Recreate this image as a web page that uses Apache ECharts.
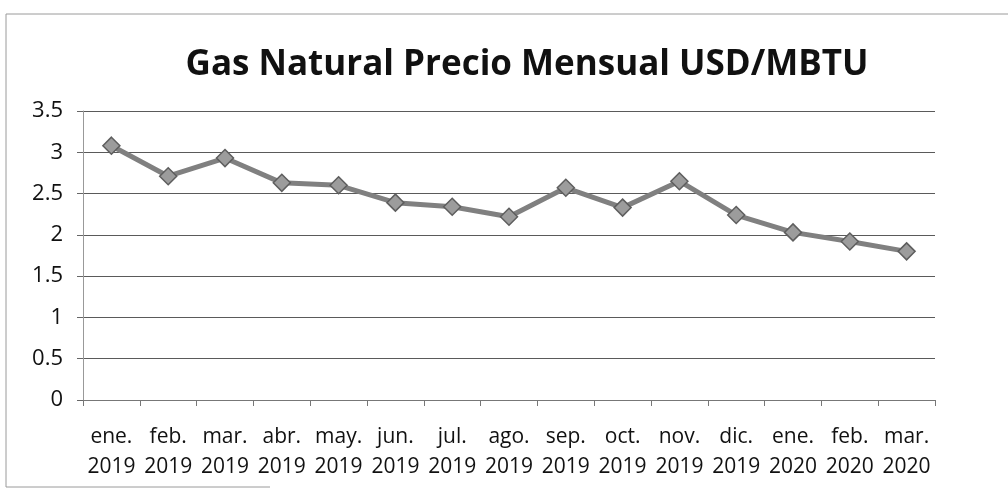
<!DOCTYPE html>
<html>
<head>
<meta charset="utf-8">
<script src="https://cdn.jsdelivr.net/npm/echarts@6/dist/echarts.min.js"></script>
<style>
html,body{margin:0;padding:0;background:#fff;}
#chart{width:1008px;height:495px;}
</style>
</head>
<body>
<div id="chart"></div>
<script>
const titleText = 'Gas Natural Precio Mensual USD/MBTU';
const months = ['ene.', 'feb.', 'mar.', 'abr.', 'may.', 'jun.', 'jul.', 'ago.', 'sep.', 'oct.', 'nov.', 'dic.', 'ene.', 'feb.', 'mar.'];
const years = ['2019', '2019', '2019', '2019', '2019', '2019', '2019', '2019', '2019', '2019', '2019', '2019', '2020', '2020', '2020'];
const prices = [3.08, 2.71, 2.93, 2.63, 2.60, 2.39, 2.34, 2.22, 2.57, 2.33, 2.65, 2.24, 2.03, 1.92, 1.80];
const yTicks = [0, 0.5, 1, 1.5, 2, 2.5, 3, 3.5];

const categories = months.map((m, i) => m + '\n' + years[i]);
const FONT = '"Open Sans", "Noto Sans", sans-serif';

const chart = echarts.init(document.getElementById('chart'), null, {renderer: 'canvas'});
chart.setOption({
  backgroundColor: '#ffffff',
  animation: false,
  title: {
    text: titleText,
    left: 522,
    textAlign: 'center',
    top: 43,
    textStyle: {fontFamily: FONT, fontWeight: 'bold', fontSize: 35, color: '#111'}
  },
  graphic: [
    {type: 'polyline', shape: {points: [[1008, 14], [6, 14], [6, 487], [270, 487]]},
     style: {stroke: '#9a9a9a', lineWidth: 1, fill: null}, silent: true}
  ],
  grid: {left: 83, right: 73, top: 111, bottom: 95, containLabel: false},
  xAxis: {
    type: 'category',
    data: categories,
    boundaryGap: true,
    axisLine: {show: true, lineStyle: {color: '#777', width: 1}},
    axisTick: {show: true, length: 6, inside: false, lineStyle: {color: '#777'}},
    axisLabel: {
      interval: 0, margin: 22, fontFamily: FONT, fontSize: 21, color: '#111', lineHeight: 30
    }
  },
  yAxis: {
    type: 'value',
    min: yTicks[0],
    max: yTicks[yTicks.length - 1],
    interval: 0.5,
    axisLine: {show: true, lineStyle: {color: '#999', width: 1}},
    axisTick: {show: true, length: 6, lineStyle: {color: '#666'}},
    splitLine: {show: true, lineStyle: {color: '#5a5a5a', width: 1}},
    axisLabel: {margin: 20, fontFamily: FONT, fontSize: 22, color: '#111'}
  },
  series: [{
    type: 'line',
    data: prices,
    symbol: 'diamond',
    symbolSize: 17,
    lineStyle: {color: '#808080', width: 5},
    itemStyle: {color: '#9c9c9c', borderColor: '#5e5e5e', borderWidth: 1.5},
    z: 3
  }]
});
</script>
</body>
</html>
